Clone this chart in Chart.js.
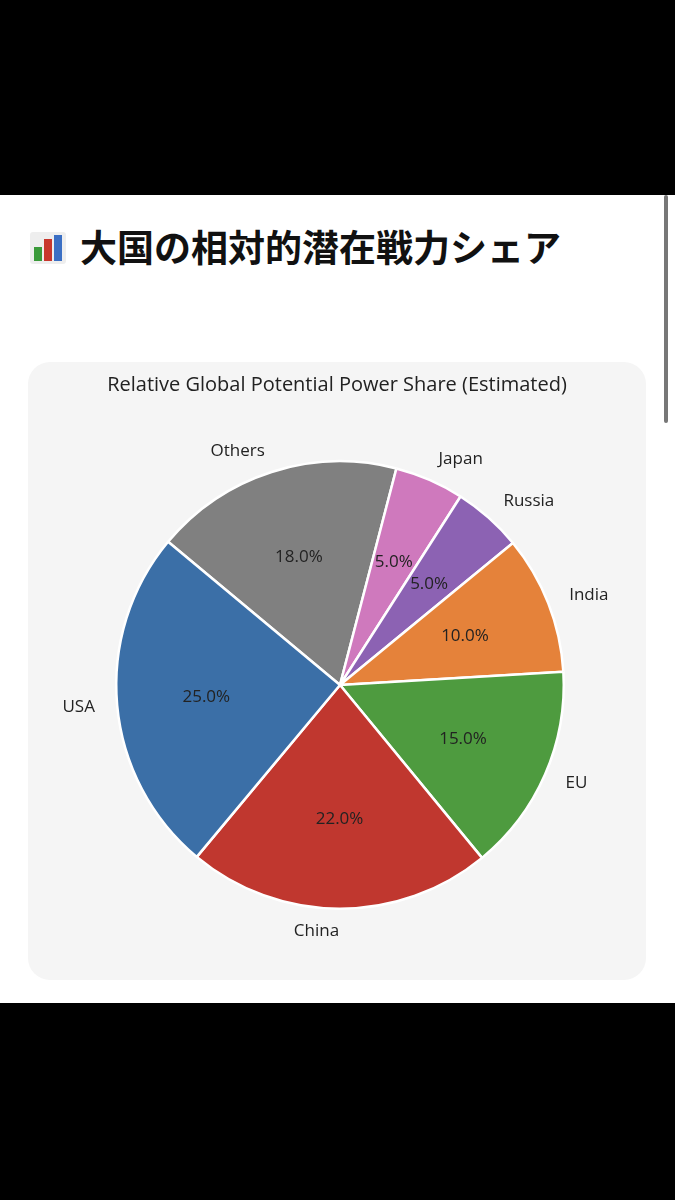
<!DOCTYPE html>
<html><head><meta charset="utf-8">
<script src="https://cdn.jsdelivr.net/npm/chart.js@4"></script>
<style>
body{margin:0;width:675px;height:1200px;background:#000;position:relative;overflow:hidden;font-family:Roboto,"Noto Sans",sans-serif}
#page{position:absolute;left:0;top:195px;width:675px;height:808px;background:#fff}
#bar{position:absolute;left:664px;top:0;width:4px;height:228px;background:#777;border-radius:2px}
h1{position:absolute;left:30px;top:28px;width:590px;margin:0;font:700 37px/46px "Noto Sans CJK JP",sans-serif;color:#111}
.icon{display:inline-block;width:36px;height:32px;background:#eee;position:relative;vertical-align:-2px;margin-right:14px;border-radius:3px}
.icon i{position:absolute;bottom:3px;width:8px}
#card{position:absolute;left:28px;top:167px;width:618px;height:618px;background:#f5f5f5;border-radius:22px}
#title{position:absolute;left:0;width:618px;top:8px;text-align:center;font:20px "Open Sans",sans-serif;color:#222}
canvas{position:absolute;left:0;top:0}
</style></head><body>
<div id="page">
<div id="bar"></div>
<h1><span class="icon"><i style="left:4px;height:14px;background:#3a9a3a"></i><i style="left:14px;height:22px;background:#c8372d"></i><i style="left:24px;height:26px;background:#3b6fc4"></i></span>大国の相対的潜在戦力シェア</h1>
<div id="card"><div style="position:absolute;left:0;top:0;width:618px;height:618px"><canvas id="c" width="618" height="618"></canvas></div><div id="title">Relative Global Potential Power Share (Estimated)</div></div>
</div>
<script>
// clockwise order as drawn
const categories = ["Others","Japan","Russia","India","EU","China","USA"];
const shares = [18,5,5,10,15,22,25];
const colors = ["#808080","#cf79bd","#8c62b3","#e5823a","#4e9b3f","#c0372f","#3b6fa7"];

const labelPlugin = {
  id: 'pieLabels',
  afterDatasetsDraw(chart) {
    const ctx = chart.ctx;
    const total = shares.reduce((a, b) => a + b, 0);
    chart.getDatasetMeta(0).data.forEach((arc, i) => {
      const mid = (arc.startAngle + arc.endAngle) / 2;
      const r = arc.outerRadius;
      const cx = Math.cos(mid), cy = Math.sin(mid);
      ctx.save();
      ctx.font = '17px "Open Sans", sans-serif';
      ctx.fillStyle = '#222';
      ctx.textBaseline = 'middle';
      ctx.textAlign = 'center';
      ctx.fillText((shares[i] / total * 100).toFixed(1) + '%', arc.x + cx * r * 0.6, arc.y + cy * r * 0.6);
      ctx.textAlign = cx > 0 ? 'left' : 'right';
      ctx.fillText(categories[i], arc.x + cx * r * 1.1, arc.y + cy * r * 1.1);
      ctx.restore();
    });
  }
};

new Chart(document.getElementById('c'), {
  type: 'pie',
  data: { labels: categories, datasets: [{ data: shares, backgroundColor: colors, borderColor: '#fff', borderWidth: 2.5 }] },
  options: {
    responsive: false, animation: false, rotation: -50.2,
    layout: { padding: { left: 87, right: 81, top: 98, bottom: 70 } },
    plugins: { legend: { display: false }, tooltip: { enabled: false } }
  },
  plugins: [labelPlugin]
});
</script>
</body></html>
